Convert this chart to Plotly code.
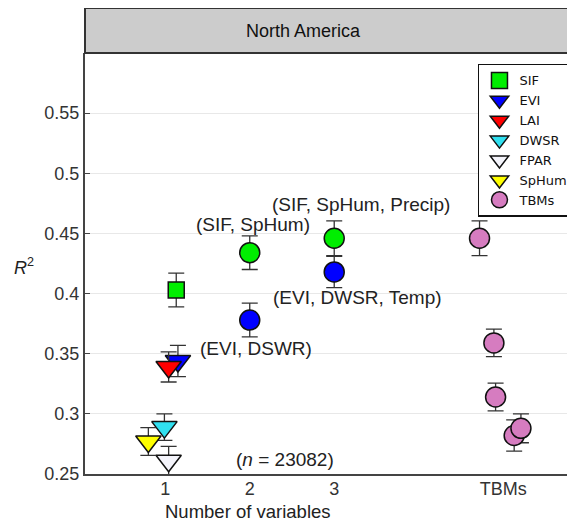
import plotly.graph_objects as go

# ---- data ----
single_names = ["SIF", "EVI", "LAI", "DWSR", "FPAR", "SpHum"]
single_x = [1.13, 1.15, 1.04, 0.99, 1.04, 0.80]
single_r2 = [0.403, 0.344, 0.339, 0.289, 0.261, 0.277]
single_err = [0.014, 0.013, 0.0125, 0.011, 0.012, 0.0115]

sif_multi_x = [2, 3]
sif_multi_r2 = [0.434, 0.446]
sif_multi_err = [0.014, 0.0145]

evi_multi_x = [2, 3]
evi_multi_r2 = [0.378, 0.418]
evi_multi_err = [0.014, 0.013]

tbm_x = [4.72, 4.89, 4.91, 5.13, 5.21]
tbm_r2 = [0.446, 0.359, 0.314, 0.282, 0.288]
tbm_err = [0.0145, 0.0115, 0.0115, 0.013, 0.012]

x_tickvals = [1, 2, 3, 5]
x_ticktext = ["1", "2", "3", "TBMs"]
y_tickvals = [0.25, 0.3, 0.35, 0.4, 0.45, 0.5, 0.55]
y_ticktext = ["0.25", "0.3", "0.35", "0.4", "0.45", "0.5", "0.55"]

# ---- styles ----
colors = {"SIF": "#00ee00", "EVI": "#0000ff", "LAI": "#ff0000", "DWSR": "#30e0f0",
          "FPAR": "#f4f4fb", "SpHum": "#ffff00", "TBMs": "#d67cc0"}
symbols = {"SIF": "square", "EVI": "triangle-down", "LAI": "triangle-down",
           "DWSR": "triangle-down", "FPAR": "triangle-down", "SpHum": "triangle-down"}
sizes = {"square": 16, "triangle-down": 22, "circle": 20}
FONT = "Liberation Sans, Arial, sans-serif"
LEGEND_FONT = "DejaVu Sans, Verdana, sans-serif"
err_style = dict(type="data", color="#333333", thickness=1.3, width=8, visible=True)
line_style = dict(color="#111111", width=1.5)

fig = go.Figure()

# multi-variable combos (no legend)
fig.add_trace(go.Scatter(x=sif_multi_x, y=sif_multi_r2, mode="markers", showlegend=False,
                         error_y=dict(array=sif_multi_err, **err_style),
                         marker=dict(symbol="circle", size=sizes["circle"], color=colors["SIF"], line=line_style)))
fig.add_trace(go.Scatter(x=evi_multi_x, y=evi_multi_r2, mode="markers", showlegend=False,
                         error_y=dict(array=evi_multi_err, **err_style),
                         marker=dict(symbol="circle", size=sizes["circle"], color=colors["EVI"], line=line_style)))

for name, x, y, e in zip(single_names, single_x, single_r2, single_err):
    sym = symbols[name]
    fig.add_trace(go.Scatter(x=[x], y=[y], mode="markers", name=name,
                             error_y=dict(array=[e], **err_style),
                             marker=dict(symbol=sym, size=sizes[sym], color=colors[name], line=line_style)))

fig.add_trace(go.Scatter(x=tbm_x, y=tbm_r2, mode="markers", name="TBMs",
                         error_y=dict(array=tbm_err, **err_style),
                         marker=dict(symbol="circle", size=sizes["circle"], color=colors["TBMs"], line=line_style)))

annots = [
    ("(SIF, SpHum)", 2.04, 0.4576),
    ("(SIF, SpHum, Precip)", 3.32, 0.4743),
    ("(EVI, DWSR, Temp)", 3.27, 0.3969),
    ("(EVI, DSWR)", 2.07, 0.3544),
    ("(<i>n</i> = 23082)", 2.42, 0.262),
]
for t, ax_, ay_ in annots:
    fig.add_annotation(x=ax_, y=ay_, text=t, showarrow=False, xref="x", yref="y",
                       xanchor="center", yanchor="middle",
                       font=dict(family=FONT, size=19, color="#222222"))

# header strip
fig.add_shape(type="rect", xref="paper", yref="paper", x0=0, x1=1.05, y0=1, y1=1.107,
              fillcolor="#cccccc", line=dict(color="#333333", width=2), layer="above")
fig.add_annotation(x=0.445, y=1.053, xref="paper", yref="paper", text="North America",
                   showarrow=False, xanchor="center", yanchor="middle",
                   font=dict(family=FONT, size=18, color="#111111"))
# axis titles
fig.add_annotation(x=0.333, y=-0.088, xref="paper", yref="paper", text="Number of variables",
                   showarrow=False, xanchor="center", yanchor="middle",
                   font=dict(family=FONT, size=18.5, color="#222222"))
fig.add_annotation(x=-0.124, y=0.492, xref="paper", yref="paper", text="<i>R</i><sup>2</sup>",
                   showarrow=False, xanchor="center", yanchor="middle",
                   font=dict(family=FONT, size=18, color="#222222"))

fig.update_layout(
    width=567, height=513,
    margin=dict(l=77, r=0, t=45, b=47),
    paper_bgcolor="white", plot_bgcolor="white",
    font=dict(family=FONT, size=18, color="#333333"),
    legend=dict(x=0.802, y=0.974, xanchor="left", yanchor="top",
                bgcolor="white", bordercolor="#111111", borderwidth=1.5,
                font=dict(family=LEGEND_FONT, size=13, color="#111111"),
                tracegroupgap=0, itemsizing="trace"),
    xaxis=dict(range=[0.05, 5.85], tickvals=x_tickvals, ticktext=x_ticktext,
               showgrid=False, zeroline=False, showline=True, linecolor="#444444", linewidth=2,
               ticks="", ticklabelstandoff=-3, tickfont=dict(size=18, color="#333333")),
    yaxis=dict(range=[0.25, 0.6], tickvals=y_tickvals, ticktext=y_ticktext,
               showgrid=True, gridcolor="#e8e8e8", gridwidth=1, zeroline=False,
               showline=True, linecolor="#444444", linewidth=2,
               ticks="inside", ticklen=5, tickcolor="#444444",
               tickfont=dict(size=18, color="#333333")),
)

fig.write_html("out.html")
